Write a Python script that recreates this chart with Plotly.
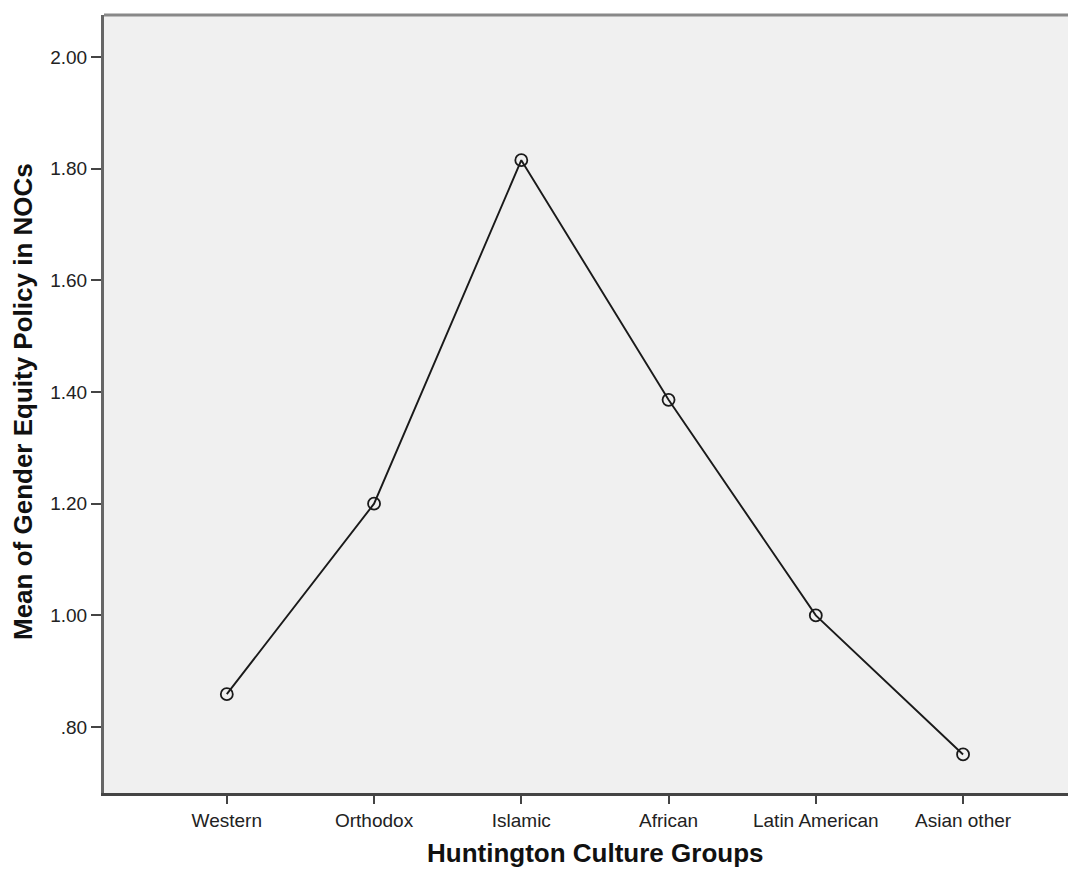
import plotly.graph_objects as go

categories = ["Western", "Orthodox", "Islamic", "African", "Latin American", "Asian other"]
means = [0.859, 1.20, 1.815, 1.386, 1.00, 0.751]
ytick_vals = [0.80, 1.00, 1.20, 1.40, 1.60, 1.80, 2.00]
ytick_text = [".80", "1.00", "1.20", "1.40", "1.60", "1.80", "2.00"]

x_idx = list(range(len(categories)))

# page has 8px default body margin; size figure so it fills the 1076x870 window
W, H = 1068, 862
L, T, B = 96, 7, 77
plot_w = W - L
plot_h = H - T - B

fig = go.Figure()
fig.add_trace(go.Scatter(
    x=x_idx, y=means, mode="lines+markers",
    line=dict(color="#1a1a1a", width=1.9),
    marker=dict(symbol="circle-open", size=12, color="#1a1a1a", line=dict(width=1.8)),
    showlegend=False, hoverinfo="skip",
))

fig.update_layout(
    width=W, height=H,
    margin=dict(l=L, r=0, t=T, b=B),
    paper_bgcolor="white",
    plot_bgcolor="#f0f0f0",
    font=dict(family="Liberation Sans, Arial, sans-serif", size=19, color="#222"),
    xaxis=dict(
        range=[-0.834, 5.767], tickmode="array", tickvals=x_idx, ticktext=categories,
        showgrid=False, zeroline=False, showline=True, linecolor="#444", linewidth=2.5,
        ticks="outside", ticklen=8, tickwidth=2, tickcolor="#444",
        tickfont=dict(size=19, color="#222"),
    ),
    yaxis=dict(
        range=[0.682, 2.075], tickmode="array", tickvals=ytick_vals, ticktext=ytick_text,
        showgrid=False, zeroline=False, showline=True, linecolor="#666", linewidth=3,
        ticks="outside", ticklen=10, tickwidth=2, tickcolor="#444",
        tickfont=dict(size=19, color="#222"),
    ),
    shapes=[dict(type="line", xref="paper", yref="paper", x0=0, x1=1, y0=1, y1=1,
                 line=dict(color="#888", width=3))],
    annotations=[
        dict(text="<b>Huntington Culture Groups</b>", xref="paper", yref="paper",
             x=(587 - L) / plot_w, y=-60 / plot_h, xanchor="center", yanchor="middle",
             showarrow=False, font=dict(size=26, color="#111")),
        dict(text="<b>Mean of Gender Equity Policy in NOCs</b>", xref="paper", yref="paper",
             x=(15 - L) / plot_w, y=(785 - 394) / plot_h, textangle=-90,
             xanchor="center", yanchor="middle",
             showarrow=False, font=dict(size=26, color="#111")),
    ],
)

fig.write_html("out.html")
